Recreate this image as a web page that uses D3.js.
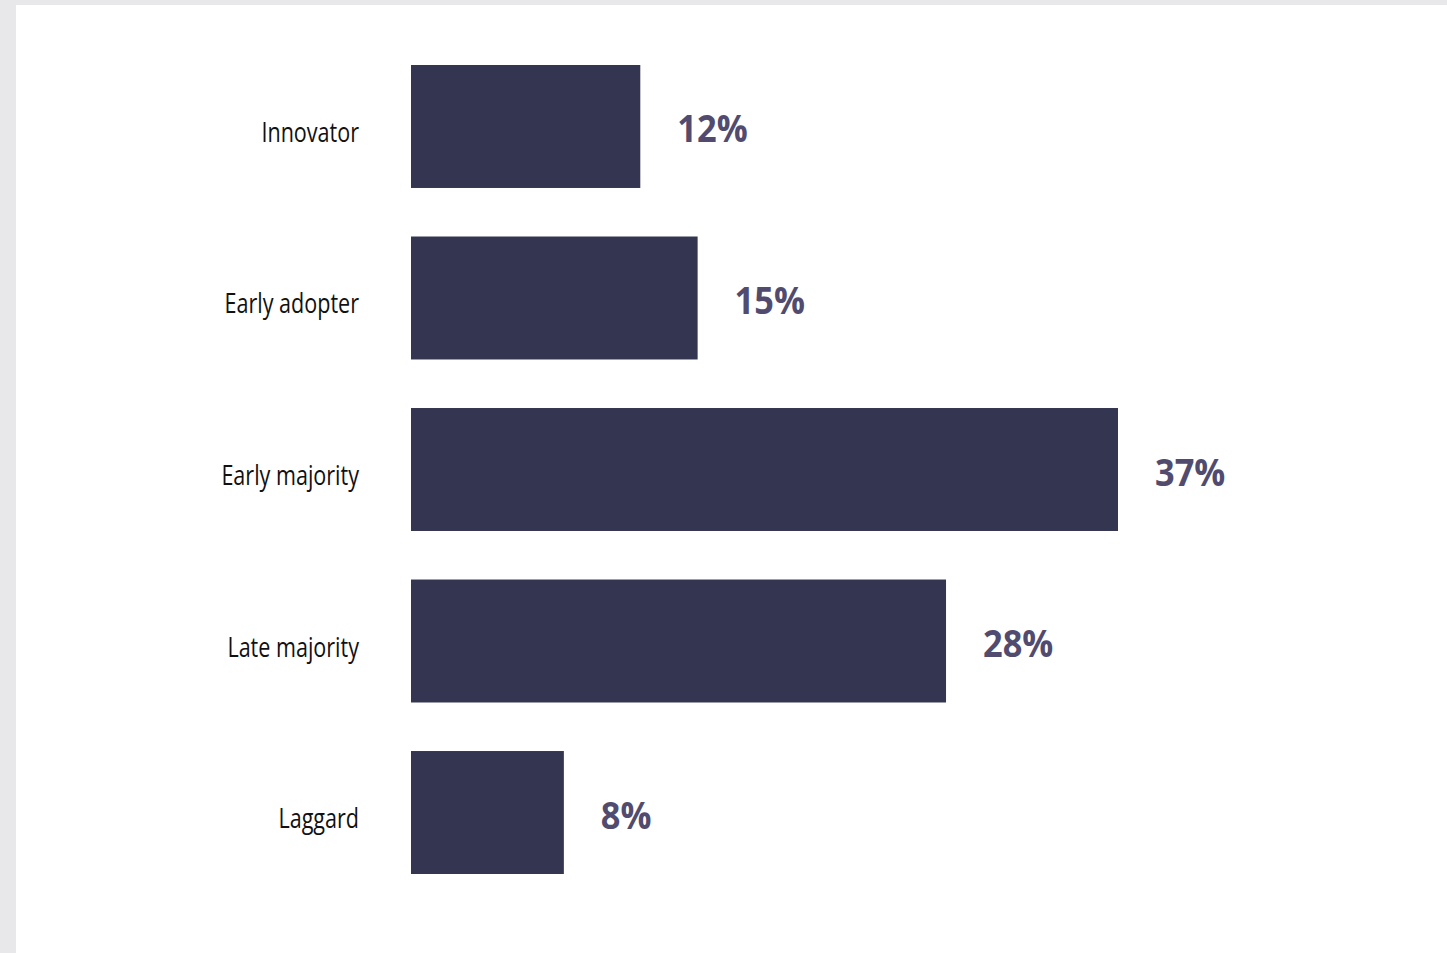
<!DOCTYPE html>
<html>
<head>
<meta charset="utf-8">
<script src="https://cdn.jsdelivr.net/npm/d3@7"></script>
<style>
  html, body { margin: 0; padding: 0; background: #e8e8ea; }
  svg { display: block; }
</style>
</head>
<body>
<script>
// Adopter categories and their shares (%)
const categories = ["Innovator", "Early adopter", "Early majority", "Late majority", "Laggard"];
const shares = [12, 15, 37, 28, 8];
const valueLabels = ["12%", "15%", "37%", "28%", "8%"];

const W = 1447, H = 953;
const svg = d3.select("body").append("svg").attr("width", W).attr("height", H);

// white panel inside a thin grey frame (top and left)
svg.append("rect").attr("x", 16).attr("y", 5).attr("width", W - 16).attr("height", H - 5).attr("fill", "#ffffff");

const x = d3.scaleLinear().domain([0, 37]).range([411, 1118]);
const y = d3.scaleBand().domain(categories).range([65, 874]).paddingInner(0.283).paddingOuter(0);

const data = categories.map((c, i) => ({ c, v: shares[i], label: valueLabels[i] }));

svg.append("g").selectAll("rect").data(data).join("rect")
  .attr("x", x(0))
  .attr("y", d => y(d.c))
  .attr("width", d => x(d.v) - x(0))
  .attr("height", y.bandwidth())
  .attr("fill", "#333551");

// category names in a condensed face
svg.append("g").selectAll("text").data(data).join("text")
  .attr("transform", d => `translate(359,${y(d.c) + y.bandwidth() / 2 + 15.5}) scale(0.77,1)`)
  .attr("text-anchor", "end")
  .attr("font-family", "'Open Sans', sans-serif")
  .attr("font-size", 28)
  .attr("fill", "#111111")
  .text(d => d.c);

// value labels just past the bar ends
svg.append("g").selectAll("text").data(data).join("text")
  .attr("transform", d => `translate(${x(d.v) + 37},${y(d.c) + y.bandwidth() / 2 + 16}) scale(0.93,1)`)
  .attr("font-family", "'Open Sans', sans-serif")
  .attr("font-weight", 700)
  .attr("font-size", 37)
  .attr("fill", "#514c6f")
  .text(d => d.label);
</script>
</body>
</html>
